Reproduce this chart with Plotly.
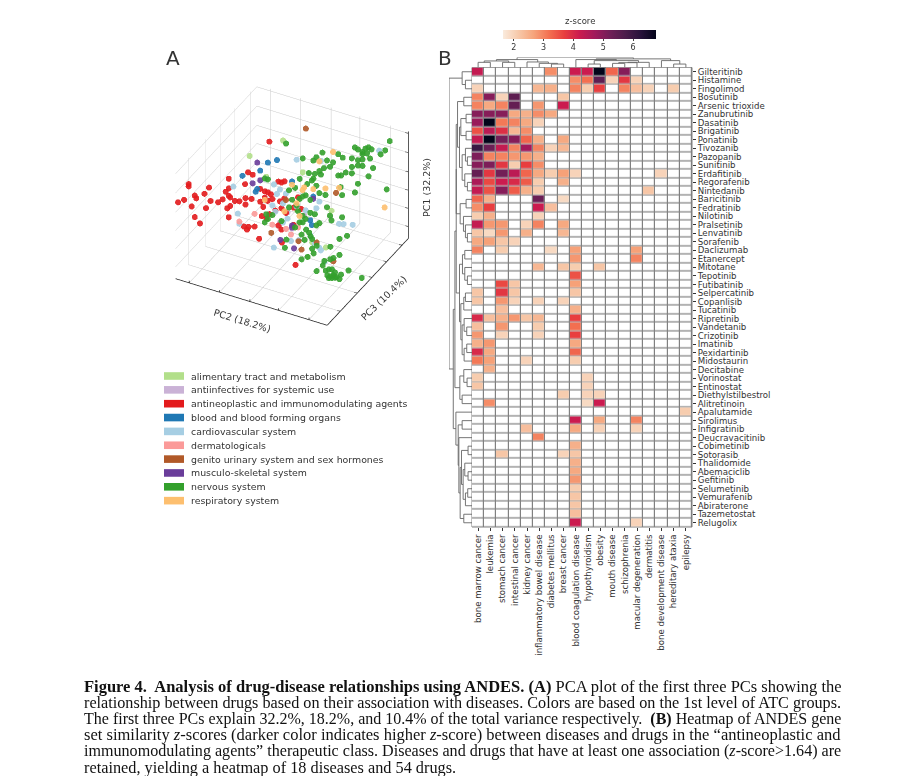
import numpy as np
import plotly.graph_objects as go

# the page body keeps an 8 px margin, so the figure is drawn 8 px in from the window corner
W, H = 891, 768
PAGE_PAD = 8

# --- panel B data ---
drugs = ["Gilteritinib", "Histamine", "Fingolimod", "Bosutinib", "Arsenic trioxide", "Zanubrutinib", "Dasatinib",
         "Brigatinib", "Ponatinib", "Tivozanib", "Pazopanib", "Sunitinib", "Erdafitinib", "Regorafenib", "Nintedanib",
         "Baricitinib", "Fedratinib", "Nilotinib", "Pralsetinib", "Lenvatinib", "Sorafenib", "Daclizumab", "Etanercept",
         "Mitotane", "Tepotinib", "Futibatinib", "Selpercatinib", "Copanlisib", "Tucatinib", "Ripretinib", "Vandetanib",
         "Crizotinib", "Imatinib", "Pexidartinib", "Midostaurin", "Decitabine", "Vorinostat", "Entinostat",
         "Diethylstilbestrol", "Alitretinoin", "Apalutamide", "Sirolimus", "Infigratinib", "Deucravacitinib",
         "Cobimetinib", "Sotorasib", "Thalidomide", "Abemaciclib", "Gefitinib", "Selumetinib", "Vemurafenib",
         "Abiraterone", "Tazemetostat", "Relugolix"]
diseases = ["bone marrow cancer", "leukemia", "stomach cancer", "intestinal cancer", "kidney cancer",
            "inflammatory bowel disease", "diabetes mellitus", "breast cancer", "blood coagulation disease",
            "hypothyroidism", "obesity", "mouth disease", "schizophrenia", "macular degeneration", "dermatitis",
            "bone development disease", "hereditary ataxia", "epilepsy"]
# z-scores per drug, {disease column: value}, blank cells left out
scores = [
    {0: 4.3, 6: 2.9, 8: 4.2, 9: 4.2, 10: 6.8, 11: 3.3, 12: 5.0},
    {8: 2.9, 9: 3.2, 10: 5.5, 11: 2.0, 12: 3.8, 13: 2.0},
    {0: 2.0, 5: 2.4, 6: 2.5, 8: 3.0, 9: 2.1, 10: 3.7, 12: 3.0, 13: 2.3, 14: 2.0, 16: 2.1},
    {0: 3.0, 1: 5.0, 2: 2.0, 3: 5.5, 7: 2.2},
    {0: 3.0, 1: 2.6, 2: 3.0, 3: 5.4, 5: 2.8, 7: 4.2},
    {0: 5.0, 1: 5.0, 2: 5.0, 3: 2.6, 4: 2.5, 5: 2.9, 6: 2.6},
    {0: 4.8, 1: 6.8, 2: 3.1, 3: 3.0, 4: 2.6, 5: 2.0},
    {0: 3.5, 1: 4.4, 2: 3.9, 3: 2.4, 4: 2.9},
    {0: 4.3, 1: 6.9, 2: 5.2, 3: 5.0, 4: 3.3, 5: 2.5, 7: 2.6},
    {0: 6.0, 1: 5.3, 2: 4.3, 3: 3.0, 4: 4.7, 5: 3.0, 6: 2.0, 7: 2.4},
    {0: 5.1, 1: 3.0, 2: 3.0, 3: 2.8, 4: 2.8, 5: 2.5},
    {0: 5.0, 1: 5.1, 2: 3.8, 3: 2.1, 4: 3.7, 5: 2.9},
    {0: 5.4, 1: 3.8, 2: 5.2, 3: 4.4, 4: 3.3, 5: 2.6, 6: 2.1, 7: 2.7, 8: 2.0, 15: 2.0},
    {0: 4.6, 1: 3.6, 2: 4.2, 3: 4.0, 4: 3.4, 5: 2.1, 7: 2.5},
    {0: 4.3, 1: 3.5, 2: 5.0, 3: 3.4, 4: 2.5, 5: 2.1, 14: 2.2},
    {0: 3.3, 1: 2.5, 5: 5.3, 7: 1.9},
    {0: 2.9, 1: 3.7, 5: 4.2, 6: 2.3},
    {0: 2.1, 1: 2.5, 5: 2.0},
    {0: 4.3, 1: 2.8, 2: 2.8, 4: 2.0, 5: 3.0, 7: 2.6},
    {0: 2.2, 1: 1.9, 2: 2.8, 4: 2.5, 7: 2.4},
    {0: 2.6, 1: 2.7, 2: 2.2, 3: 2.0},
    {0: 3.0, 2: 2.1, 6: 1.9, 8: 2.7, 13: 2.7},
    {8: 2.8, 13: 3.0},
    {5: 2.4, 7: 2.2, 8: 2.1, 10: 2.2},
    {8: 3.5},
    {2: 3.6, 3: 2.2, 8: 2.7},
    {0: 2.2, 2: 3.8, 3: 2.2, 8: 2.2},
    {0: 2.2, 2: 2.8, 3: 2.0, 5: 2.0, 7: 2.0},
    {2: 2.3, 8: 2.5},
    {0: 4.0, 1: 2.3, 2: 2.5, 3: 2.8, 4: 2.2, 5: 2.4, 8: 3.7},
    {0: 2.3, 2: 2.8, 5: 2.1, 8: 3.2},
    {0: 2.8, 2: 2.0, 5: 2.0, 8: 3.7},
    {0: 2.5, 1: 2.8, 8: 2.6},
    {0: 4.0, 1: 2.6, 8: 3.3},
    {0: 3.1, 1: 2.7, 4: 2.0, 8: 2.1},
    {1: 2.5},
    {0: 2.1, 9: 2.0},
    {0: 2.2, 9: 2.0},
    {7: 2.1, 9: 2.0, 10: 2.0},
    {1: 2.9, 9: 1.9, 10: 4.2},
    {17: 2.1},
    {8: 4.2, 10: 2.6, 13: 3.0},
    {4: 2.3, 8: 2.6, 10: 2.0, 13: 2.0},
    {5: 3.0},
    {8: 2.5},
    {2: 2.2, 7: 2.0, 8: 2.2},
    {8: 2.5},
    {8: 2.6},
    {8: 2.8},
    {8: 2.1},
    {8: 2.2},
    {8: 2.2},
    {8: 2.3},
    {8: 4.2, 13: 2.0},
]
rocket_r = [[0.0, "#faebdd"], [0.1, "#f7c9aa"], [0.2, "#f6a47b"], [0.3, "#f37151"], [0.4, "#e83f3f"],
            [0.5, "#cb1b4f"], [0.6, "#a11a5b"], [0.7, "#701f57"], [0.8, "#4c1d4b"], [0.9, "#28123b"], [1.0, "#03051a"]]
z_ticks = [2, 3, 4, 5, 6]

# dendrograms as nested (left, right, merge height); ints are leaf positions
top_tree = ((((0, 1, 15), (2, 3, 15), 19), (4, (5, (6, 7, 10), 12), 16), 23),
            ((8, ((9, 10, 10), ((((11, 12, 12), 13, 14), 14, 15)), 20), 23), (15, (16, 17, 10), 20), 25), 29)
left_top = (0, (1, 2, 20), 30)
left_a = (((3, 4, 25), (((5, 6, 18), (7, 8, 18), 34), ((9, (10, 11, 14), 20), (12, (13, 14, 14), 22), 30), 38), 44),
          ((15, 16, 18), (17, (18, (19, 20, 14), 20), 26), 36), 48)
left_mid = (((21, 22, 22), (23, (24, 25, 14), 22), 29),
            (((26, 27, 20), 28, 25), (((30, 31, 16), 29, 24), ((32, 33, 16), 34, 24), 30), 34), 38)
left_low = ((35, (36, 37, 15), 25), (38, 39, 30), 37)
left_rest = (40, ((41, 42, 30), (43, (((44, 45, 12), ((46, (47, 48, 12), 22), ((49, 50, 13), 51, 20), 27), 32),
                                      (52, 53, 25), 36), 40), 42), 49)
left_tree = (left_top, (((left_a, left_mid, 48), left_low, 52), left_rest, 57), 70)

# --- panel A data: PC2, PC3, PC1 per ATC group, on a 0-100 scale ---
atc_groups = ["alimentary tract and metabolism", "antiinfectives for systemic use",
              "antineoplastic and immunomodulating agents", "blood and blood forming organs",
              "cardiovascular system", "dermatologicals", "genito urinary system and sex hormones",
              "musculo-skeletal system", "nervous system", "respiratory system"]
atc_colors = ["#b2df8a", "#cab2d6", "#e31a1c", "#1f78b4", "#a6cee3", "#fb9a99", "#b15928", "#6a3d9a", "#33a02c", "#fdbf6f"]

alim_pc2 = [36, 14, 49, 71, 74, 76, 33, 53, 83]
alim_pc3 = [65, 65, 65, 30, 30, 50, 50, 50, 30]
alim_pc1 = [92, 68, 68, 27, 42, 56, 69, 47, 41]

anti_pc2 = [42, 47, 58, 50]
anti_pc3 = [50, 50, 50, 50]
anti_pc1 = [30, 42, 44, 28]

neo_pc2 = [0, 4, 7, 7, 11, 12, 9, 11, 8, 11, 14, 15, 20, 12, 27, 27, 25, 27, 28, 23, 31, 34, 28, 26, 27,
           30, 30, 34, 29, 32, 31, 36, 39, 63, 54,
           21, 24, 19, 29, 32, 34, 36, 37, 34, 29, 31, 32, 30, 35, 33, 41, 43, 45, 42, 45, 43, 39, 41, 43, 46, 51, 54,
           51, 56, 27]
neo_pc3 = [3, 3, 3, 3, 3, 3, 3, 3, 15, 15, 15, 15, 15, 15, 15, 15, 15, 15, 15, 15, 15, 15, 15, 15, 15,
           30, 30, 30, 30, 30, 30, 30, 30, 30, 30,
           50, 50, 50, 50, 50, 50, 50, 50, 50, 50, 50, 50, 50, 50, 50, 50, 50, 50, 50, 50, 50, 50, 50, 50, 50, 50, 50,
           50, 50, 65]
neo_pc1 = [69, 73, 89, 87, 80, 78, 69, 60, 43, 72, 79, 67, 68, 59, 93, 84, 80, 77, 76, 72, 74, 75, 68, 65, 57,
           58, 64, 65, 37, 38, 35, 40, 30, 16, 33,
           68, 67, 56, 56, 55, 55, 54, 50, 47, 44, 40, 49, 31, 35, 30, 68, 68, 70, 50, 54, 44, 40, 27, 24, 41, 48, 59,
           32, 49, 87]

blood_pc2 = [26, 32, 29, 28, 27, 26, 50, 64, 62, 63]
blood_pc3 = [65, 65, 50, 30, 50, 50, 50, 50, 50, 50]
blood_pc1 = [67, 72, 73, 84, 55, 52, 72, 64, 41, 37]

cardio_pc2 = [30, 33, 34, 38, 45, 61, 33, 38, 40, 42, 37, 39, 44, 47, 60, 65, 62, 65, 68, 69, 82, 81, 84, 90, 86,
              66, 68, 44, 53, 59, 46]
cardio_pc3 = [15, 15, 15, 50, 65, 65, 50, 50, 50, 50, 50, 50, 50, 50, 30, 30, 50, 50, 50, 50, 30, 50, 50, 50, 90,
              50, 50, 50, 50, 50, 50]
cardio_pc1 = [87, 63, 54, 5, 78, 84, 67, 64, 56, 61, 44, 39, 31, 36, 37, 40, 27, 21, 18, 16, 27, 46, 47, 49, 84,
              54, 61, 49, 50, 49, 59]

derm_pc2 = [34, 36, 60, 46, 54, 37]
derm_pc3 = [15, 30, 30, 50, 50, 50]
derm_pc1 = [56, 52, 43, 26, 31, 26]

genito_pc2 = [43, 79, 47, 67, 65, 96, 77, 46]
genito_pc3 = [80, 50, 30, 30, 30, 15, 30, 50]
genito_pc1 = [94, 74, 39, 32, 39, 46, 43, 53]

musc_pc2 = [19, 29, 24, 62, 53, 50, 64, 50]
musc_pc3 = [65, 50, 50, 30, 30, 50, 50, 50]
musc_pc1 = [64, 64, 59, 31, 35, 31, 62, 29]

nerv_pc2 = [93, 70, 72, 79, 77, 75, 81, 75, 78, 90, 87, 80, 75, 72, 68, 68, 72, 75, 82, 68, 79, 64, 61, 59, 62, 59,
            91, 72, 70,
            75, 74, 65, 62, 58, 56, 49, 38, 69, 67, 63, 60, 53, 57, 61, 56, 55, 47,
            52, 48, 60, 66, 72, 68, 59,
            32, 34, 33, 34, 32, 37, 53, 55, 54, 50, 57, 62, 48, 57, 59, 57, 62, 65, 55, 52, 43, 68, 66, 73, 75, 76, 83,
            56, 57, 67, 70, 72, 73, 74, 77, 75, 74, 69, 92, 97, 92, 86, 67, 71, 82,
            89, 85, 94, 96, 91, 93, 95, 92, 94, 96, 98, 97, 100, 93, 93, 97, 98, 96, 95]
nerv_pc3 = [90, 90, 90, 90, 90, 90, 90, 90, 90, 90, 90, 90, 90, 90, 90, 90, 90, 90, 90, 90, 90, 90, 90, 90, 90, 90,
            90, 90, 90,
            65, 65, 65, 65, 65, 65, 65, 65, 65, 65, 65, 65, 65, 65, 65, 65, 65, 65,
            50, 50, 50, 50, 50, 50, 50,
            50, 50, 50, 50, 50, 50, 50, 50, 50, 50, 50, 50, 50, 50, 50, 50, 50, 50, 50, 50, 50, 50, 50, 50, 50, 50, 50,
            30, 30, 30, 30, 30, 30, 30, 30, 30, 30, 30, 30, 30, 30, 30, 30, 30, 30,
            15, 15, 15, 15, 15, 15, 15, 15, 15, 15, 15, 15, 15, 15, 30, 15, 30, 50, 15]
nerv_pc1 = [96, 80, 79, 84, 82, 78, 83, 76, 78, 86, 81, 74, 71, 69, 69, 61, 64, 65, 66, 55, 57, 54, 50, 49, 67, 69,
            50, 47, 38,
            58, 65, 86, 92, 86, 82, 81, 90, 86, 81, 78, 74, 69, 70, 71, 65, 63, 61,
            67, 63, 74, 75, 69, 69, 63,
            67, 67, 34, 30, 26, 35, 51, 58, 46, 55, 61, 60, 47, 43, 41, 37, 48, 48, 36, 30, 32, 41, 38, 58, 51, 47, 53,
            29, 37, 46, 52, 50, 47, 45, 40, 32, 36, 42, 53, 58, 38, 43, 23, 27, 28,
            39, 32, 47, 49, 35, 37, 38, 31, 31, 33, 32, 31, 31, 29, 20, 36, 26, 2, 30]

resp_pc2 = [61, 60, 58, 64, 57, 72, 32, 50, 45, 95, 73, 53, 55]
resp_pc3 = [80, 65, 50, 50, 50, 50, 50, 50, 50, 80, 65, 50, 50]
resp_pc1 = [80, 83, 70, 71, 67, 75, 47, 69, 42, 43, 64, 53, 42]

pc2_ticks = [9, 29, 49, 68, 88]
pc3_ticks = [16, 37, 55, 73, 92]
pc1_ticks = [11, 28, 45, 62, 80, 98]


# pixel helpers, picture coordinates to paper fractions
def fx(px):
    return (px - PAGE_PAD) / W


def fy(py):
    return 1 - (py - PAGE_PAD) / H


fig = go.Figure()

# --- panel A ---
groups_3d = [(alim_pc2, alim_pc3, alim_pc1), (anti_pc2, anti_pc3, anti_pc1), (neo_pc2, neo_pc3, neo_pc1),
             (blood_pc2, blood_pc3, blood_pc1), (cardio_pc2, cardio_pc3, cardio_pc1), (derm_pc2, derm_pc3, derm_pc1),
             (genito_pc2, genito_pc3, genito_pc1), (musc_pc2, musc_pc3, musc_pc1), (nerv_pc2, nerv_pc3, nerv_pc1),
             (resp_pc2, resp_pc3, resp_pc1)]
for name, color, (a, b, c) in zip(atc_groups, atc_colors, groups_3d):
    fig.add_trace(go.Scatter3d(x=a, y=b, z=c, mode="markers", name=name, showlegend=False, scene="scene",
                               marker=dict(size=3.5, color=color, opacity=0.9, line=dict(width=0))))


# black axis edges with small tick stubs
def axis_edge(xs, ys, zs):
    fig.add_trace(go.Scatter3d(x=xs, y=ys, z=zs, mode="lines", showlegend=False, hoverinfo="skip",
                               line=dict(color="#222222", width=1.5)))


stub = 2
sx, sy, sz = [0, 100], [0, 0], [0, 0]
for t in pc2_ticks:
    sx += [None, t, t]; sy += [None, 0, 0]; sz += [None, 0, stub]
axis_edge(sx, sy, sz)
sx, sy, sz = [100, 100], [0, 100], [0, 0]
for t in pc3_ticks:
    sx += [None, 100, 100 - stub]; sy += [None, t, t]; sz += [None, 0, 0]
axis_edge(sx, sy, sz)
sx, sy, sz = [100, 100], [100, 100], [0, 100]
for t in pc1_ticks:
    sx += [None, 100, 100 - stub]; sy += [None, 100, 100]; sz += [None, t, t]
axis_edge(sx, sy, sz)

axis3d = dict(showbackground=False, showline=False, zeroline=False, showticklabels=False, ticks="", title="",
              showspikes=False, gridcolor="#c9c9c9", gridwidth=1, range=[0, 100], autorange=False)

# view fitted to the box in the picture, orthographic; the box scale follows the scene height
azim, elev = np.radians(-61.8), np.radians(35)
eye_dist = 2.5
cam_eye = eye_dist * np.array([np.cos(elev) * np.cos(azim), np.cos(elev) * np.sin(azim), np.sin(elev)])

# --- panel B ---
n_r, n_c = len(drugs), len(diseases)
z = np.full((n_r, n_c), np.nan)
for i, row in enumerate(scores):
    for j, v in row.items():
        z[i, j] = v

# white cells with gaps, over a gray rectangle, give the cell borders
fig.add_trace(go.Heatmap(z=np.zeros((n_r, n_c)), x=list(range(n_c)), y=list(range(n_r)), xaxis="x", yaxis="y",
                         colorscale=[[0, "white"], [1, "white"]], showscale=False, xgap=1.2, ygap=1.2, hoverinfo="skip"))
fig.add_trace(go.Heatmap(z=z, x=list(range(n_c)), y=list(range(n_r)), xaxis="x", yaxis="y",
                         colorscale=rocket_r, zmin=1.64, zmax=6.77, xgap=1.2, ygap=1.2,
                         colorbar=dict(orientation="h", lenmode="pixels", len=153, thicknessmode="pixels", thickness=9,
                                       x=fx(579.5), xanchor="center", y=fy(30), yanchor="top", outlinewidth=0,
                                       xpad=0, ypad=0, ticks="outside", ticklen=2, tickwidth=1, tickcolor="#444444",
                                       tickvals=z_ticks, tickfont=dict(size=8, color="#333333"))))


def dendro(node, xs, ys, vertical):
    if isinstance(node, int):
        return node, 0
    pa, ha = dendro(node[0], xs, ys, vertical)
    pb, hb = dendro(node[1], xs, ys, vertical)
    h = node[2]
    pos = [pa, pa, pb, pb, None]
    hts = [ha, h, h, hb, None]
    if vertical:
        xs += pos; ys += hts
    else:
        xs += hts; ys += pos
    return (pa + pb) / 2, h


lx, ly = [], []
dendro(left_tree, lx, ly, False)
fig.add_trace(go.Scatter(x=lx, y=ly, mode="lines", xaxis="x2", yaxis="y2", showlegend=False, hoverinfo="skip",
                         line=dict(color="#666666", width=0.9)))
tx, ty = [], []
dendro(top_tree, tx, ty, True)
fig.add_trace(go.Scatter(x=tx, y=ty, mode="lines", xaxis="x3", yaxis="y3", showlegend=False, hoverinfo="skip",
                         line=dict(color="#666666", width=0.9)))

hidden = dict(visible=False, showgrid=False, zeroline=False)
hm_x = [fx(472), fx(692)]
hm_y = [fy(527), fy(67.5)]

fig.update_layout(
    width=W, height=H, margin=dict(l=0, r=0, t=0, b=0, autoexpand=False), paper_bgcolor="white",
    plot_bgcolor="rgba(0,0,0,0)",
    showlegend=False, font=dict(family="DejaVu Sans", color="#333333"),
    scene=dict(domain=dict(x=[fx(44), fx(540)], y=[fy(377), fy(33)]),
               xaxis=dict(axis3d, tickvals=pc2_ticks), yaxis=dict(axis3d, tickvals=pc3_ticks),
               zaxis=dict(axis3d, tickvals=pc1_ticks),
               aspectmode="manual", aspectratio=dict(x=1, y=1, z=0.76),
               camera=dict(eye=dict(x=cam_eye[0], y=cam_eye[1], z=cam_eye[2]), up=dict(x=0, y=0, z=1),
                           projection=dict(type="orthographic"))),
    xaxis=dict(domain=hm_x, range=[-0.5, n_c - 0.5], tickvals=list(range(n_c)), ticktext=diseases, tickangle=-90,
               ticks="outside", ticklen=3, tickcolor="#333333", tickfont=dict(size=8.6, color="#333333"),
               showgrid=False, zeroline=False, anchor="y"),
    yaxis=dict(domain=hm_y, range=[n_r - 0.5, -0.5], tickvals=list(range(n_r)), ticktext=drugs, side="right",
               ticks="outside", ticklen=3, tickcolor="#333333", tickfont=dict(size=8.6, color="#333333"),
               showgrid=False, zeroline=False, anchor="x"),
    xaxis2=dict(hidden, domain=[fx(449), fx(472)], range=[70, 0], anchor="y2"),
    yaxis2=dict(hidden, domain=hm_y, range=[n_r - 0.5, -0.5], anchor="x2"),
    xaxis3=dict(hidden, domain=hm_x, range=[-0.5, n_c - 0.5], anchor="y3"),
    yaxis3=dict(hidden, domain=[fy(67.5), fy(57.5)], range=[0, 29], anchor="x3"),
)

# gray rectangle behind the heatmap cells
fig.add_shape(type="rect", xref="paper", yref="paper", x0=hm_x[0], x1=hm_x[1], y0=hm_y[0], y1=hm_y[1],
              fillcolor="#808080", line=dict(color="#808080", width=1), layer="below")

notes = []


def note(text, x, y, size, color="#333333", family="DejaVu Sans", angle=0, xanchor="left"):
    notes.append(dict(text=text, x=fx(x), y=fy(y), xref="paper", yref="paper", showarrow=False, xanchor=xanchor,
                      yanchor="middle", textangle=angle, font=dict(size=size, color=color, family=family)))


note("A", 173, 58, 20, xanchor="center")
note("B", 445, 58, 20, xanchor="center")
note("z-score", 580, 21, 8.5, xanchor="center")
note("PC2 (18.2%)", 242, 320, 9.5, angle=17, xanchor="center")
note("PC3 (10.4%)", 383, 298, 9.5, angle=-44, xanchor="center")
note("PC1 (32.2%)", 426, 188, 9.5, angle=-90, xanchor="center")

# legend patches, one row per ATC group
for i, (name, color) in enumerate(zip(atc_groups, atc_colors)):
    yy = 376 + i * 13.85
    fig.add_shape(type="rect", xref="paper", yref="paper", x0=fx(164), x1=fx(184), y0=fy(yy + 3.8), y1=fy(yy - 3.8),
                  fillcolor=color, line=dict(width=0))
    note(name, 189, yy, 9.4)

caption = [
    "<b>Figure 4.  Analysis of drug-disease relationships using ANDES. (A)</b> PCA plot of the first three PCs showing the",
    "relationship between drugs based on their association with diseases. Colors are based on the 1st level of ATC groups.",
    "The first three PCs explain 32.2%, 18.2%, and 10.4% of the total variance respectively.  <b>(B)</b> Heatmap of ANDES gene",
    "set similarity <i>z</i>-scores (darker color indicates higher <i>z</i>-score) between diseases and drugs in the \u201cantineoplastic and",
    "immunomodulating agents\u201d therapeutic class. Diseases and drugs that have at least one association (<i>z</i>-score>1.64) are",
    "retained, yielding a heatmap of 18 diseases and 54 drugs.",
]
caption_sizes = [16.5, 16.2, 16.0, 16.5, 16.1, 16.3]
for i, line in enumerate(caption):
    note(line, 82, 686.5 + i * 16.1, caption_sizes[i], color="#111111", family="Liberation Serif")

fig.update_layout(annotations=notes)

fig.write_html("out.html")
